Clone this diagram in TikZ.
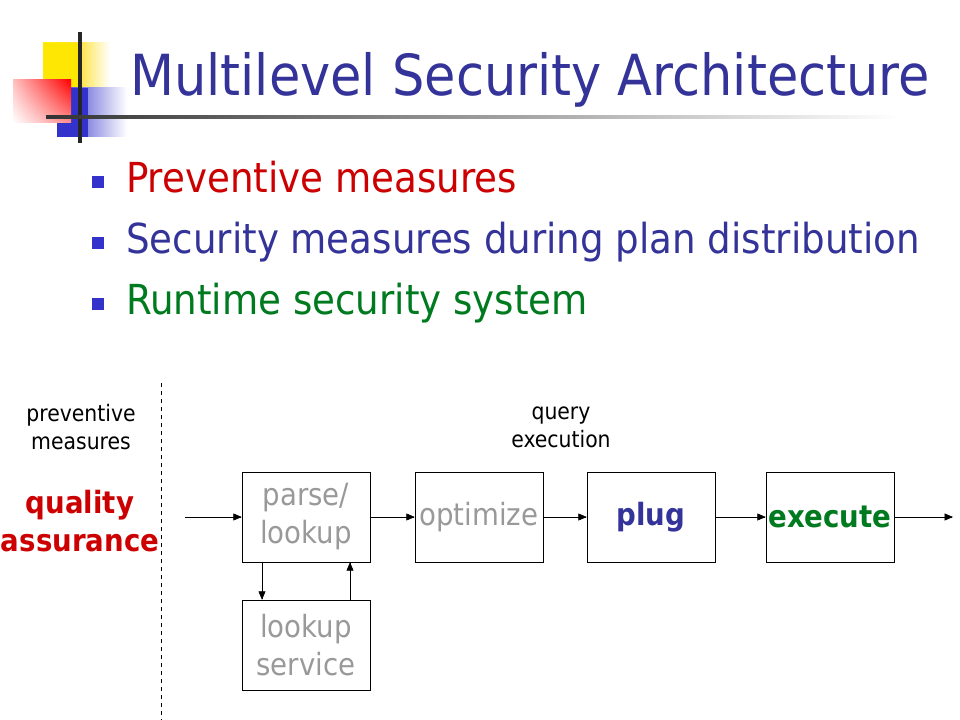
\documentclass[tikz,border=0pt]{standalone}
\usepackage{fontspec}
\setmainfont{DejaVu Sans Condensed}
\usetikzlibrary{arrows, positioning, shadings}
\definecolor{TitleBlue}{HTML}{333399}
\definecolor{BulletBlue}{HTML}{3333CC}
\definecolor{DarkRed}{HTML}{CC0000}
\definecolor{DarkGreen}{HTML}{007A1F}
\definecolor{TextGray}{HTML}{999999}

\begin{document}
\begin{tikzpicture}[x = 0.75pt, y = -0.75pt]
\tikzstyle{BoxStyle}=[
shape = rectangle,
minimum width = 96pt,
minimum height = 67.5pt,
inner sep = 0pt,
font = \fontsize{23}{28.5}\selectfont,
draw]
\tikzstyle{ArrowStyle}=[-triangle 45, thin]
\tikzstyle{BulletStyle}=[fill = BulletBlue, minimum size = 9pt, inner sep = 0pt]
\tikzstyle{ItemStyle}=[anchor = base west, inner sep = 0pt, font = \fontsize{31}{36}\selectfont]
\tikzstyle{SmallStyle}=[align = center, font = \fontsize{17}{21}\selectfont]
\useasboundingbox (0,0) rectangle (960,720);
% logo
\shade[left color = yellow!90!orange, right color = white, middle color = yellow!70!orange!80] (43,43) rectangle (110,88);
\fill[yellow!90!orange] (43,43) rectangle (78,88);
\shade[left color = BulletBlue, right color = white] (57,88) rectangle (127,137);
\fill[BulletBlue] (57,88) rectangle (88,137);
\shade[upper right = red, upper left = red!25, lower right = red!45, lower left = white] (13,80) rectangle (71,123);
\draw[line width = 2.5pt, black!85] (80,32) -- (80,143);
\shade[left color = black!80, right color = white] (46,116) rectangle (900,119);
% title and bullets
\node[anchor = base west, inner sep = 0pt, text = TitleBlue, font = \fontsize{42.5}{50}\selectfont] (title) at (130,96) {Multilevel Security Architecture};
\node[BulletStyle] (b1) at (98,182) {};
\node[BulletStyle] (b2) at (98,243) {};
\node[BulletStyle] (b3) at (98,304) {};
\node[ItemStyle, text = DarkRed] (i1) at (126,193) {Preventive measures};
\node[ItemStyle, text = TitleBlue] (i2) at (126,254) {Security measures during plan distribution};
\node[ItemStyle, text = DarkGreen] (i3) at (126,315) {Runtime security system};
% diagram
\draw[dashed] (161,383) -- (161,720);
\node[SmallStyle] (prev) at (81,427) {preventive\\measures};
\node[SmallStyle] (query) at (561,427) {query\\execution};
\node[align = center, text = DarkRed, font = \fontsize{23}{28.5}\selectfont\bfseries] (qa) at (80,521) {quality\\assurance};
\node[BoxStyle, align = center, text = TextGray] (parse) at (306,517) {parse/\\lookup};
\node[BoxStyle, text = TextGray] (optimize) at (479,517) {optimize};
\node[BoxStyle, text = TitleBlue, font = \fontsize{23}{28.5}\selectfont\bfseries] (plug) at (651,517) {plug};
\node[BoxStyle, text = DarkGreen, font = \fontsize{23}{28.5}\selectfont\bfseries] (execute) at (830,517) {execute};
\node[BoxStyle, align = center, text = TextGray] (service) at (306,645) {lookup\\service};
\coordinate (in) at (185,517);
\coordinate (out) at (953,517);
\draw[ArrowStyle] (in) -- (parse);
\draw[ArrowStyle] (parse) -- (optimize);
\draw[ArrowStyle] (optimize) -- (plug);
\draw[ArrowStyle] (plug) -- (execute);
\draw[ArrowStyle] (execute) -- (out);
\draw[ArrowStyle] ([xshift = -33pt]parse.south) -- ([xshift = -33pt]service.north);
\draw[ArrowStyle] ([xshift = 33pt]service.north) -- ([xshift = 33pt]parse.south);
\end{tikzpicture}
\end{document}
